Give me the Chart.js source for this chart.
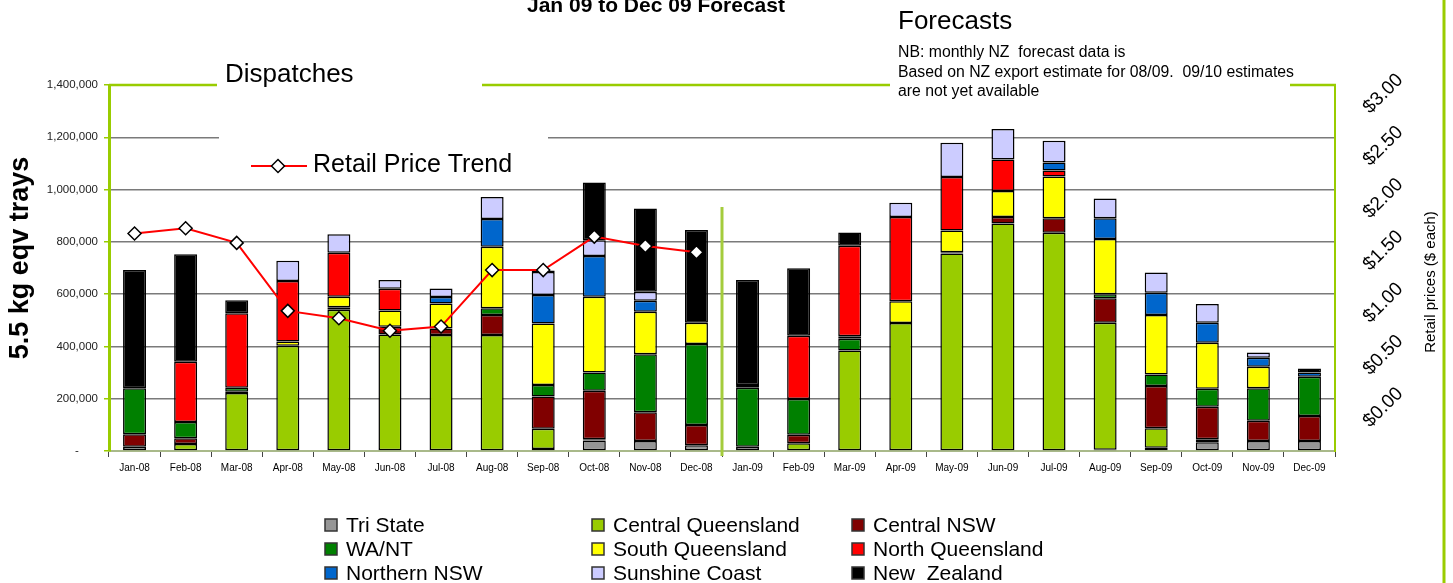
<!DOCTYPE html>
<html><head><meta charset="utf-8">
<script src="https://cdn.jsdelivr.net/npm/chart.js@4.4.0/dist/chart.umd.min.js"></script>
<style>html,body{margin:0;padding:0;background:#fff;overflow:hidden}canvas{display:block}</style>
</head><body>
<canvas id="c" width="1453" height="583"></canvas>
<script>
const categories = ['Jan-08','Feb-08','Mar-08','Apr-08','May-08','Jun-08','Jul-08','Aug-08','Sep-08','Oct-08','Nov-08','Dec-08',
  'Jan-09','Feb-09','Mar-09','Apr-09','May-09','Jun-09','Jul-09','Aug-09','Sep-09','Oct-09','Nov-09','Dec-09'];
const triState    = [16000,null,null,null,null,null,null,null,8000,40000,38000,22000, 16000,null,null,null,null,null,null,5000,12000,33000,38000,38000];
const centralQld  = [null,27000,222000,403000,540000,446000,444000,444000,77000,5000,null,null, null,30000,384000,490000,755000,870000,835000,486000,75000,12000,null,null];
const centralNSW  = [48000,22000,5000,null,null,29000,25000,76000,123000,185000,110000,77000, null,32000,null,null,null,25000,55000,93000,162000,124000,78000,96000];
const waNT        = [176000,62000,15000,null,10000,null,null,26000,44000,70000,222000,310000, 226000,137000,45000,null,5000,null,null,16000,44000,69000,124000,150000];
const southQld    = [null,null,null,16000,40000,62000,95000,235000,236000,290000,163000,82000, null,null,10000,83000,83000,100000,160000,211000,227000,176000,82000,null];
const northQld    = [null,230000,285000,231000,168000,84000,null,null,null,null,null,null, 10000,242000,346000,322000,205000,120000,23000,null,null,null,null,null];
const northernNSW = [null,null,null,null,null,null,25000,106000,109000,156000,42000,null, null,null,null,null,null,null,31000,79000,85000,77000,35000,16000];
const sunshine    = [null,null,null,78000,71000,33000,33000,85000,88000,60000,34000,null, null,null,null,55000,131000,117000,83000,76000,78000,71000,20000,null];
const newZealand  = [452000,412000,50000,null,null,null,null,null,5000,221000,319000,354000, 402000,258000,51000,null,null,null,null,null,null,null,null,16000];
const retailPrice = [1.58,1.63,1.49,0.84,0.77,0.65,0.69,1.23,1.23,1.55,1.46,1.40, null,null,null,null,null,null,null,null,null,null,null,null];
const priceTicks  = [0,0.5,1,1.5,2,2.5,3];

const seriesNames  = ['Tri State','Central Queensland','Central NSW','WA/NT','South Queensland','North Queensland','Northern NSW','Sunshine Coast','New  Zealand'];
const seriesColors = ['#969696','#99cc00','#800000','#008000','#ffff00','#ff0000','#0066cc','#ccccff','#000000'];
const seriesData   = [triState,centralQld,centralNSW,waNT,southQld,northQld,northernNSW,sunshine,newZealand];

const FONT = "'Liberation Sans', Arial, sans-serif";
const GREEN = '#99cc00';

const datasets = seriesNames.map((n,i)=>({
  type:'bar', label:n, data:seriesData[i], backgroundColor:seriesColors[i],
  borderColor:'#000', borderWidth:1.5, borderSkipped:false, stack:'s', order:1,
  categoryPercentage:0.9, barPercentage:0.5, yAxisID:'y'
}));
datasets.push({
  type:'line', label:'Retail Price Trend', data:retailPrice, yAxisID:'y2', order:0,
  borderColor:'#ff0000', borderWidth:2, pointStyle:'rectRot', pointRadius:6.5,
  pointBackgroundColor:'#fff', pointBorderColor:'#000', pointBorderWidth:1.5, spanGaps:false, tension:0
});

function diamond(ctx,x,y,r){
  ctx.beginPath();ctx.moveTo(x,y-r);ctx.lineTo(x+r,y);ctx.lineTo(x,y+r);ctx.lineTo(x-r,y);ctx.closePath();
  ctx.fillStyle='#fff';ctx.fill();ctx.lineWidth=1.5;ctx.strokeStyle='#000';ctx.stroke();
}

const deco = {
  id:'deco',
  beforeDatasetsDraw(chart){
    const ctx=chart.ctx;ctx.save();
    ctx.fillStyle='#fff';ctx.fillRect(219,110,329,60);
    ctx.restore();
  },
  afterDraw(chart){
    const ctx=chart.ctx, ca=chart.chartArea, xs=chart.scales.x, y2=chart.scales.y2;
    ctx.save();
    ctx.strokeStyle=GREEN;ctx.lineWidth=2.5;
    ctx.beginPath();
    ctx.moveTo(ca.left,ca.top);ctx.lineTo(217,ca.top);
    ctx.moveTo(482,ca.top);ctx.lineTo(890,ca.top);
    ctx.moveTo(1290,ca.top);ctx.lineTo(ca.right+1,ca.top);
    ctx.stroke();
    ctx.lineWidth=3;ctx.beginPath();ctx.moveTo(1444,0);ctx.lineTo(1444,583);ctx.stroke();
    const sx=(xs.getPixelForValue(11)+xs.getPixelForValue(12))/2;
    ctx.strokeStyle='#a4cc3c';ctx.lineWidth=3;
    ctx.beginPath();ctx.moveTo(sx,207);ctx.lineTo(sx,456);ctx.stroke();
    ctx.fillStyle='#000';ctx.textBaseline='alphabetic';ctx.textAlign='left';
    ctx.font='bold 21px '+FONT;ctx.fillText('Jan 09 to Dec 09 Forecast',527,12);
    ctx.font='26px '+FONT;ctx.fillText('Dispatches',225,82);
    ctx.fillText('Forecasts',898,29);
    ctx.font='15.8px '+FONT;
    ctx.fillText('NB: monthly NZ  forecast data is',898,57);
    ctx.fillText('Based on NZ export estimate for 08/09.  09/10 estimates',898,77);
    ctx.fillText('are not yet available',898,96);
    ctx.strokeStyle='#ff0000';ctx.lineWidth=2;
    ctx.beginPath();ctx.moveTo(251,166);ctx.lineTo(307,166);ctx.stroke();
    diamond(ctx,278,166,6.5);
    ctx.fillStyle='#000';ctx.font='25px '+FONT;ctx.fillText('Retail Price Trend',313,172);
    ctx.save();ctx.translate(28,258);ctx.rotate(-Math.PI/2);ctx.textAlign='center';
    ctx.font='bold 27px '+FONT;ctx.fillText('5.5 kg eqv trays',0,0);ctx.restore();
    ctx.font='19px '+FONT;
    priceTicks.forEach(v=>{
      const py=y2.getPixelForValue(v);
      ctx.save();ctx.translate(1400,py-8);ctx.rotate(-Math.PI/4);
      ctx.textAlign='right';ctx.textBaseline='middle';
      ctx.fillText('$'+v.toFixed(2),0,0);ctx.restore();
    });
    ctx.save();ctx.translate(1431,282);ctx.rotate(-Math.PI/2);ctx.textAlign='center';ctx.textBaseline='middle';
    ctx.font='15px '+FONT;ctx.fillText('Retail prices ($ each)',0,0);ctx.restore();
    const colX=[325,592,852], rowY=[525,549,573];
    ctx.font='21px '+FONT;ctx.textBaseline='middle';ctx.textAlign='left';
    seriesNames.forEach((n,i)=>{
      const cx=colX[i%3], cy=rowY[Math.floor(i/3)];
      ctx.fillStyle=seriesColors[i];ctx.fillRect(cx,cy-6,12,12);
      ctx.strokeStyle='#333';ctx.lineWidth=1.5;ctx.strokeRect(cx,cy-6,12,12);
      ctx.fillStyle='#000';ctx.fillText(n,cx+21,cy+1);
    });
    ctx.restore();
  }
};

new Chart(document.getElementById('c'),{
  data:{labels:categories,datasets},
  options:{
    responsive:false, animation:false, devicePixelRatio:1,
    layout:{padding:{top:85,left:0,right:0,bottom:0}},
    plugins:{legend:{display:false},tooltip:{enabled:false}},
    scales:{
      x:{stacked:true, offset:true,
        grid:{display:true, drawOnChartArea:false, drawTicks:true, tickLength:6, tickColor:'#444', offset:true},
        border:{color:'#a9b98a', width:2},
        ticks:{font:{family:FONT,size:10}, color:'#000', padding:5, maxRotation:0, minRotation:0, autoSkip:false},
        afterFit:s=>{s.height=132;}},
      y:{stacked:true, min:0, max:1400000,
        ticks:{stepSize:200000, font:{family:FONT,size:11.5}, color:'#222', padding:6,
          callback:v=> v===0 ? '-      ' : v.toLocaleString('en-US')},
        grid:{color:c=> c.tick && c.tick.value===1400000 ? 'rgba(0,0,0,0)' : '#7a7a7a', lineWidth:1.5, tickColor:GREEN, tickLength:5},
        border:{color:GREEN, width:3},
        afterFit:s=>{s.width=109;}},
      y2:{position:'right', min:-0.5, max:3,
        ticks:{display:false, stepSize:0.5}, grid:{display:false},
        border:{color:GREEN, width:2},
        afterFit:s=>{s.width=118;}}
    }
  },
  plugins:[deco]
});
</script>
</body></html>
